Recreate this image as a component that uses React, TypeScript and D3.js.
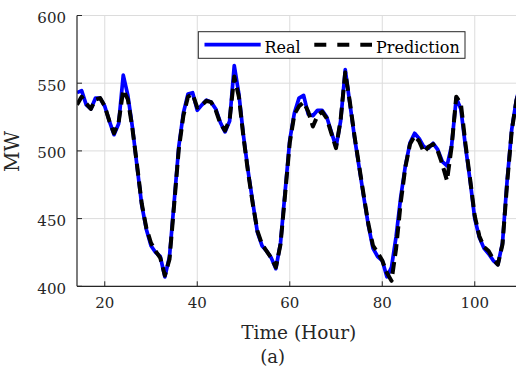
import React from "react";
import * as d3 from "d3";

const hours: number[] = d3.range(14, 111);
const realValues: number[] = [
  543, 544.5, 534, 531, 539, 539, 533, 522, 512, 520, 556, 541, 517, 488, 460, 442, 430, 425, 422, 407,
  422, 462, 503, 528, 542, 543, 530, 534, 537.5, 536, 531, 521, 514, 522, 563, 542, 511, 485, 462, 440,
  430, 426, 421, 413, 432, 470, 508, 528, 539, 541, 527, 526, 530, 530, 525, 514, 503, 522, 560, 535,
  510, 488, 466, 445, 428, 422, 419, 407, 414, 437, 466, 489, 506, 513, 509, 503, 502, 505.6, 501, 492,
  489, 504, 539, 531, 503, 478, 450, 436, 428, 424, 419, 416, 432, 478, 516, 538, 550,
];
const predValues: number[] = [
  534, 540, 535, 531, 538, 539, 533, 522, 513, 521, 545, 538, 516, 489, 461, 443, 432, 426, 421, 408,
  420, 460, 501, 526, 540, 542, 532, 534, 537, 536, 530, 520, 515, 523, 555, 540, 510, 484, 461, 441,
  431, 426, 421, 414, 431, 468, 506, 527, 533, 536, 529, 518, 526, 529, 524, 513, 502, 523, 558, 536,
  511, 489, 467, 446, 430, 425, 419, 410, 404, 428, 462, 488, 505, 511, 507, 499, 503, 505, 500, 490,
  478, 503, 540, 535, 505, 479, 452, 437, 429, 426, 420, 416, 431, 476, 515, 537, 549,
];
const xTicks: number[] = [20, 40, 60, 80, 100];
const yTicks: number[] = [400, 450, 500, 550, 600];
const seriesNames: string[] = ["Real", "Prediction"];

const W = 516;
const H = 369;
const FONT = "'DejaVu Serif', serif";

export default function App() {
  const x = d3.scaleLinear().domain([14, 110]).range([77, 521]);
  const y = d3.scaleLinear().domain([400, 600]).range([286.3, 15.5]);
  const line = d3
    .line<number>()
    .x((_, i) => x(hours[i]))
    .y((d) => y(d));

  const left = x.range()[0];
  const right = x.range()[1];
  const top = y.range()[1];
  const bottom = y.range()[0];

  return (
    <svg
      width={W}
      height={H}
      style={{ position: "absolute", left: 0, top: 0, background: "#fff" }}
    >
      <defs>
        <clipPath id="plot">
          <rect x={left} y={top - 5} width={right - left} height={bottom - top + 10} />
        </clipPath>
      </defs>
      <rect x={0} y={0} width={W} height={H} fill="#fff" />
      {xTicks.map((t) => (
        <line key={"gx" + t} x1={x(t)} x2={x(t)} y1={top} y2={bottom} stroke="#dcdcdc" strokeWidth={1} />
      ))}
      {yTicks.map((t) => (
        <line key={"gy" + t} x1={left} x2={right} y1={y(t)} y2={y(t)} stroke="#dcdcdc" strokeWidth={1} />
      ))}
      <g clipPath="url(#plot)">
        <path d={line(realValues) || ""} fill="none" stroke="#0000ff" strokeWidth={3.7} strokeLinejoin="round" />
        <path
          d={line(predValues) || ""}
          fill="none"
          stroke="#000"
          strokeWidth={4}
          strokeDasharray="12,6"
          strokeLinejoin="round"
        />
      </g>
      <line x1={left} x2={left} y1={top} y2={bottom} stroke="#262626" strokeWidth={1.2} />
      <line x1={left} x2={right} y1={bottom} y2={bottom} stroke="#262626" strokeWidth={1.2} />
      {xTicks.map((t) => (
        <g key={"tx" + t}>
          <line x1={x(t)} x2={x(t)} y1={bottom} y2={bottom - 5} stroke="#262626" strokeWidth={1} />
          <text x={x(t)} y={308.3} textAnchor="middle" fontFamily={FONT} fontSize={15} fill="#262626">
            {t}
          </text>
        </g>
      ))}
      {yTicks.map((t) => (
        <g key={"ty" + t}>
          <line x1={left} x2={left + 5} y1={y(t)} y2={y(t)} stroke="#262626" strokeWidth={1} />
          <text x={66} y={y(t) + 7.5} textAnchor="end" fontFamily={FONT} fontSize={15} fill="#262626">
            {t}
          </text>
        </g>
      ))}
      <text x={298.8} y={339} textAnchor="middle" fontFamily={FONT} fontSize={18.5} fill="#262626">
        Time (Hour)
      </text>
      <text x={272.7} y={362.7} textAnchor="middle" fontFamily={FONT} fontSize={18} fill="#262626">
        (a)
      </text>
      <text
        transform={`translate(18.5,151.5) rotate(-90)`}
        textAnchor="middle"
        fontFamily={FONT}
        fontSize={20}
        fill="#262626"
      >
        MW
      </text>
      <rect x={198.3} y={31.7} width={266.7} height={26.6} fill="#fff" stroke="#262626" strokeWidth={1} />
      <line x1={204.5} x2={260.7} y1={44.7} y2={44.7} stroke="#0000ff" strokeWidth={3.7} />
      <text x={264.5} y={52.5} fontFamily={FONT} fontSize={16} fill="#000">
        {seriesNames[0]}
      </text>
      <line x1={314.3} x2={372} y1={44.7} y2={44.7} stroke="#000" strokeWidth={4} strokeDasharray="12,11" />
      <text x={376} y={52.5} fontFamily={FONT} fontSize={16} fill="#000">
        {seriesNames[1]}
      </text>
    </svg>
  );
}
